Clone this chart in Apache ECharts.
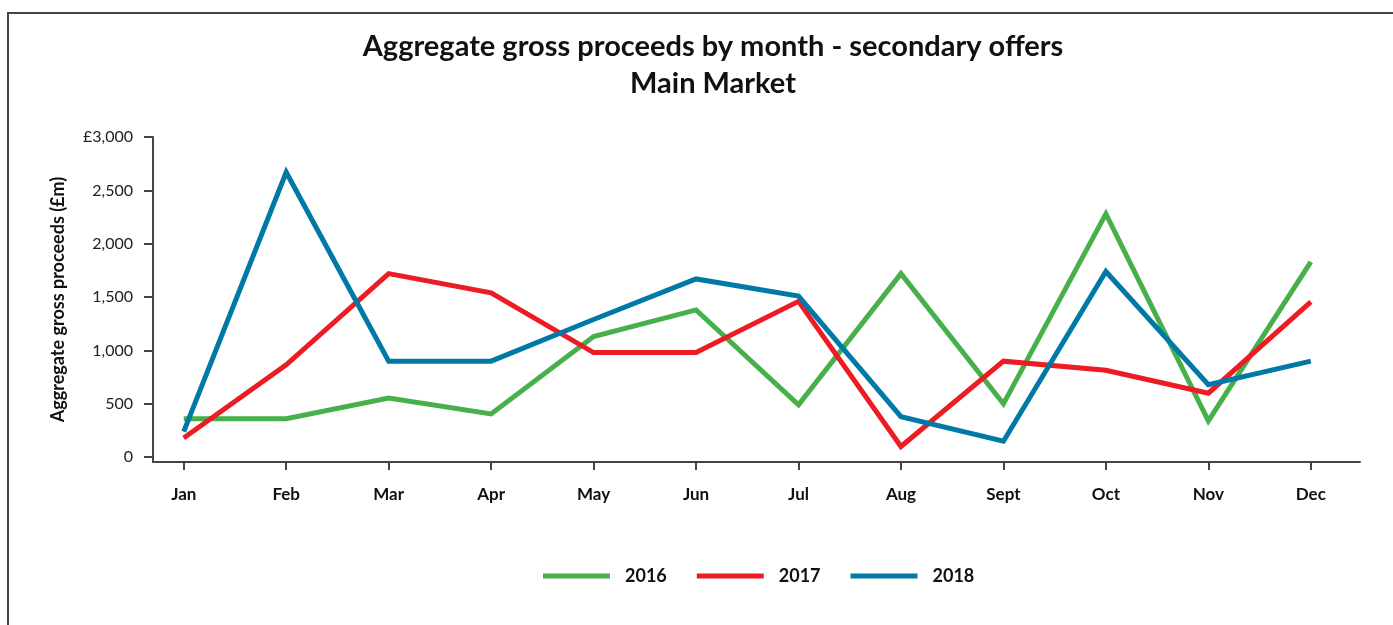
<!DOCTYPE html>
<html>
<head>
<meta charset="utf-8">
<script src="https://cdn.jsdelivr.net/npm/echarts@6/dist/echarts.min.js"></script>
<style>
  body { margin: 0; background: #fff; }
  #chart { position: absolute; left: 0; top: 0; width: 1393px; height: 625px; }
  #frame { position: absolute; left: 7px; top: 12px; width: 1500px; height: 700px;
           border-left: 2px solid #444; border-top: 2px solid #444; pointer-events: none; }
</style>
</head>
<body>
<div id="chart"></div>
<div id="frame"></div>
<script>
// months on the x axis
var months = ['Jan', 'Feb', 'Mar', 'Apr', 'May', 'Jun', 'Jul', 'Aug', 'Sept', 'Oct', 'Nov', 'Dec'];
// aggregate gross proceeds, £m
var y2016 = [360, 360, 555, 405, 1130, 1380, 490, 1720, 500, 2280, 340, 1830];
var y2017 = [180, 865, 1720, 1540, 980, 980, 1460, 100, 900, 815, 600, 1455];
var y2018 = [240, 2670, 900, 900, 1290, 1670, 1510, 380, 150, 1740, 680, 900];
var yTicks = [0, 500, 1000, 1500, 2000, 2500, 3000];

var FONT = 'Lato';
var chart = echarts.init(document.getElementById('chart'));

function pts(arr) {
  return arr.map(function (v, i) { return [i, v]; });
}
function line(name, arr, color) {
  return {
    name: name,
    type: 'line',
    data: pts(arr),
    showSymbol: false,
    symbol: 'none',
    color: color,
    lineStyle: { width: 5, color: color, join: 'miter', cap: 'butt' }
  };
}

var monthIdx = months.map(function (m, i) { return i; });

chart.setOption({
  animation: false,
  title: {
    text: 'Aggregate gross proceeds by month - secondary offers\nMain Market',
    left: 713,
    top: 28,
    padding: 0,
    textAlign: 'center',
    textStyle: { fontFamily: FONT, fontSize: 29, fontWeight: 'bold', lineHeight: 37, color: '#111' }
  },
  legend: {
    left: 538,
    top: 562,
    icon: 'rect',
    itemWidth: 67,
    itemHeight: 5,
    itemGap: 30,
    textStyle: { fontFamily: FONT, fontSize: 18, fontWeight: 'bold', color: '#111', padding: [0, 0, 0, 10] },
    data: ['2016', '2017', '2018']
  },
  grid: { left: 153, right: 33, top: 137, bottom: 163, containLabel: false },
  xAxis: {
    type: 'value',
    min: -0.3,
    max: 11.48,
    splitLine: { show: false },
    axisLine: { onZero: false, lineStyle: { color: '#444', width: 2 } },
    axisTick: { show: true, length: 8, customValues: monthIdx, lineStyle: { color: '#444', width: 2 } },
    axisLabel: {
      customValues: monthIdx,
      margin: 24,
      fontFamily: FONT, fontSize: 17, fontWeight: 'bold', color: '#111',
      formatter: function (v) { return months[Math.round(v)]; }
    }
  },
  yAxis: {
    type: 'value',
    min: -45,
    max: 3000,
    name: 'Aggregate gross proceeds (£m)',
    nameLocation: 'middle',
    nameRotate: 90,
    nameGap: 86,
    nameTextStyle: { fontFamily: FONT, fontSize: 18, fontWeight: 'bold', color: '#111' },
    splitLine: { show: false },
    axisLine: { show: true, onZero: false, lineStyle: { color: '#444', width: 2 } },
    axisTick: { show: true, length: 9, customValues: yTicks, lineStyle: { color: '#444', width: 2 } },
    axisLabel: {
      customValues: yTicks,
      margin: 20,
      fontFamily: FONT, fontSize: 16, color: '#222',
      formatter: function (v) {
        var s = v.toLocaleString('en-GB');
        return v === 3000 ? '£' + s : s;
      }
    }
  },
  series: [
    line('2016', y2016, '#47b04b'),
    line('2017', y2017, '#ed1c24'),
    line('2018', y2018, '#0079a6')
  ]
});
</script>
</body>
</html>
